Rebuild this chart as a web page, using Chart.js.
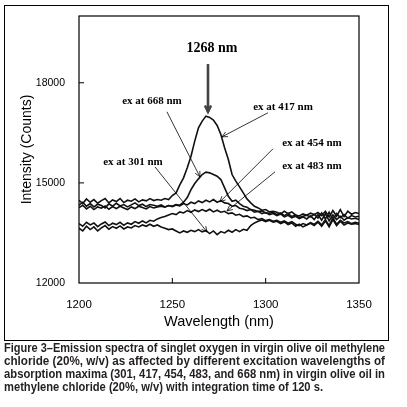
<!DOCTYPE html>
<html>
<head>
<meta charset="utf-8">
<script src="https://cdn.jsdelivr.net/npm/chart.js@4/dist/chart.umd.min.js"></script>
<style>
  html, body { margin: 0; padding: 0; background: #fff; }
  #wrap { position: relative; width: 407px; height: 407px; overflow: hidden; }
  #frame { position: absolute; left: 4px; top: 5px; width: 383px; height: 334px; border: 1px solid #000; pointer-events: none; }
  #caption {
    position: absolute; left: 4px; top: 342px; width: 381px;
    font-family: "Liberation Sans", Arial, sans-serif;
    font-weight: bold; font-size: 12px; line-height: 13px; color: #231f20;
  }
  #caption div { white-space: nowrap; height: 13px; }
  #caption span { display: inline-block; transform-origin: 0 0; }
</style>
</head>
<body>
<div id="wrap">
  <canvas id="spectra-chart" width="407" height="407"></canvas>
  <div id="frame"></div>
  <div id="caption">
    <div><span>Figure 3–Emission spectra of singlet oxygen in virgin olive oil methylene</span></div>
    <div><span>chloride (20%, w/v) as affected by different excitation wavelengths of</span></div>
    <div><span>absorption maxima (301, 417, 454, 483, and 668 nm) in virgin olive oil in</span></div>
    <div class="last"><span>methylene chloride (20%, w/v) with integration time of 120 s.</span></div>
  </div>
</div>
<script>
  const wavelengths = [1200, 1202, 1204, 1206, 1208, 1210, 1212, 1214, 1216, 1218, 1220, 1222, 1224, 1226, 1228, 1230, 1232, 1234, 1236, 1238,
    1240, 1242, 1244, 1246, 1248, 1250, 1252, 1254, 1256, 1258, 1260, 1262, 1264, 1266, 1268, 1270, 1272, 1274, 1276, 1278,
    1280, 1282, 1284, 1286, 1288, 1290, 1292, 1294, 1296, 1298, 1300, 1302, 1304, 1306, 1308, 1310, 1312, 1314, 1316, 1318,
    1320, 1322, 1324, 1326, 1328, 1330, 1332, 1334, 1336, 1338, 1340, 1342, 1344, 1346, 1348, 1350];

  const ex417 = [14480, 14380, 14520, 14420, 14500, 14390, 14470, 14530, 14400, 14490, 14440, 14530, 14410, 14480, 14450, 14520, 14430, 14490, 14460, 14530, 14470, 14500, 14480,
    14530, 14500, 14620, 14700, 14940, 15150, 15450, 15800, 16250, 16650, 16850, 17000, 16960, 16880, 16720, 16450, 16050, 15700, 15250, 15050, 14880, 14700, 14520, 14400, 14300, 14250, 14180, 14200, 14130, 14150,
    14120, 14060, 14150, 14080, 14130, 14040, 14010, 14070, 14030, 14090, 14050, 14110, 14020, 14150, 13980, 14170, 14000, 14200, 13990, 14150, 14060, 14110, 14080];

  const ex668 = [14330, 14420, 14300, 14380, 14280, 14360, 14320, 14250, 14370, 14300, 14390, 14310, 14350, 14280, 14340, 14400, 14320, 14360, 14290, 14350, 14330, 14300, 14340,
    14280, 14320, 14300, 14350, 14330, 14420, 14560, 14800, 14980, 15120, 15250, 15320, 15300, 15250, 15200, 15100, 14850, 14600, 14450, 14480, 14380, 14300, 14270, 14200, 14180, 14140, 14160, 14100, 14090, 14120,
    14050, 14100, 14020, 14080, 13990, 14040, 13960, 14000, 14030, 13980, 14060, 13950, 14100, 13920, 14120, 13900, 14080, 13960, 14050, 13940, 14020, 13980, 14000];

  const ex454 = [14260, 14330, 14220, 14300, 14200, 14280, 14240, 14310, 14210, 14290, 14230, 14300, 14250, 14200, 14280, 14230, 14300, 14260, 14220, 14290, 14250, 14280, 14300,
    14270, 14320, 14290, 14340, 14310, 14380, 14340, 14420, 14380, 14460, 14410, 14480, 14430, 14500, 14420, 14470, 14400, 14380, 14300, 14320, 14240, 14220, 14170, 14200, 14120, 14150, 14080, 14110, 14050, 14080,
    14020, 14070, 13980, 14030, 13950, 14000, 13930, 13980, 13920, 14010, 13900, 14050, 13880, 14080, 13860, 14040, 13900, 14000, 13880, 13960, 13920, 13940, 13900];

  const ex483 = [13780, 13700, 13820, 13740, 13800, 13690, 13770, 13830, 13720, 13790, 13750, 13820, 13730, 13800, 13760, 13840, 13790, 13860, 13800, 13880, 13850, 13920, 13960,
    13990, 14040, 14080, 14050, 14130, 14100, 14170, 14120, 14190, 14140, 14200, 14150, 14210, 14130, 14180, 14120, 14150, 14080, 14100, 14030, 14060, 13990, 14010, 13950, 13970, 13900, 13930, 13870, 13900, 13850,
    13880, 13820, 13860, 13790, 13840, 13760, 13720, 13780, 13740, 13810, 13760, 13850, 13740, 13900, 13720, 13950, 13760, 13880, 13800, 13840, 13780, 13820, 13790];

  const ex301 = [13640, 13560, 13700, 13600, 13680, 13560, 13650, 13720, 13610, 13690, 13640, 13710, 13620, 13680, 13650, 13720, 13680, 13740, 13700, 13760, 13700, 13740, 13680,
    13640, 13600, 13620, 13560, 13500, 13560, 13520, 13580, 13540, 13600, 13530, 13570, 13480, 13560, 13450, 13540, 13500, 13580, 13520, 13600, 13540, 13610, 13580, 13720, 13800, 13850, 13890, 13840, 13880, 13820,
    13850, 13780, 13830, 13750, 13800, 13700, 13760, 13680, 13740, 13790, 13720, 13820, 13700, 13860, 13680, 13900, 13720, 13850, 13740, 13800, 13760, 13780, 13750];

  const xTicks = [1200, 1250, 1300, 1350];
  const yTicks = [12000, 15000, 18000];

  // labels and arrows, in data units (wavelength, counts)
  const notes = [
    { text: 'ex at 668 nm', at: [1239.1, 17460], from: [1247.1, 17130], to: [1264.8, 15180] },
    { text: 'ex at 417 nm', at: [1309.3, 17280], from: [1301.2, 17100], to: [1276.6, 16380] },
    { text: 'ex at 454 nm', at: [1324.8, 16200], from: [1303.9, 16020], to: [1275.5, 14430] },
    { text: 'ex at 483 nm', at: [1324.8, 15510], from: [1305.0, 15330], to: [1279.3, 14160] },
    { text: 'ex at 301 nm', at: [1228.9, 15630], from: [1240.7, 15480], to: [1268.6, 13530] }
  ];
  const peakNote = { text: '1268 nm', at: [1271.2, 19020], from: [1269.1, 18560], to: [1269.1, 17130] };

  function toPoints(values) {
    return wavelengths.map((w, i) => ({ x: w, y: values[i] }));
  }

  function drawArrow(ctx, x1, y1, x2, y2, head) {
    const a = Math.atan2(y2 - y1, x2 - x1);
    ctx.beginPath();
    ctx.moveTo(x1, y1);
    ctx.lineTo(x2, y2);
    ctx.stroke();
    ctx.beginPath();
    ctx.moveTo(x2 - head * Math.cos(a - 0.45), y2 - head * Math.sin(a - 0.45));
    ctx.lineTo(x2, y2);
    ctx.lineTo(x2 - head * Math.cos(a + 0.45), y2 - head * Math.sin(a + 0.45));
    ctx.stroke();
  }

  const framePlugin = {
    id: 'frameAndNotes',
    afterDatasetsDraw(chart) {
      const { ctx, chartArea: ca, scales: { x, y } } = chart;
      ctx.save();
      ctx.strokeStyle = '#000';
      ctx.lineWidth = 1.2;
      ctx.strokeRect(ca.left, ca.top, ca.right - ca.left, ca.bottom - ca.top);
      // inward tick marks
      ctx.lineWidth = 1;
      ctx.beginPath();
      xTicks.slice(1, -1).forEach(t => {
        const px = x.getPixelForValue(t);
        ctx.moveTo(px, ca.bottom);
        ctx.lineTo(px, ca.bottom - 5);
      });
      yTicks.slice(1).forEach(t => {
        const py = y.getPixelForValue(t);
        ctx.moveTo(ca.left, py);
        ctx.lineTo(ca.left + 5, py);
      });
      ctx.stroke();

      ctx.fillStyle = '#000';
      ctx.textAlign = 'center';
      ctx.textBaseline = 'middle';
      ctx.font = 'bold 11px "Liberation Serif", "DejaVu Serif", serif';
      ctx.lineWidth = 0.8;
      notes.forEach(n => {
        ctx.fillText(n.text, x.getPixelForValue(n.at[0]), y.getPixelForValue(n.at[1]));
        drawArrow(ctx, x.getPixelForValue(n.from[0]), y.getPixelForValue(n.from[1]),
          x.getPixelForValue(n.to[0]), y.getPixelForValue(n.to[1]), 6);
      });

      ctx.font = 'bold 14px "Liberation Serif", "DejaVu Serif", serif';
      ctx.fillText(peakNote.text, x.getPixelForValue(peakNote.at[0]), y.getPixelForValue(peakNote.at[1]));
      ctx.strokeStyle = '#444';
      ctx.lineWidth = 2.6;
      drawArrow(ctx, x.getPixelForValue(peakNote.from[0]), y.getPixelForValue(peakNote.from[1]),
        x.getPixelForValue(peakNote.to[0]), y.getPixelForValue(peakNote.to[1]), 7);
      ctx.restore();
    }
  };

  function lineSet(label, values) {
    return {
      label: label,
      data: toPoints(values),
      borderColor: '#111',
      borderWidth: 1.6,
      pointRadius: 0,
      tension: 0,
      fill: false
    };
  }

  // squeeze each caption line to the column width, like the condensed print face
  function fitCaption() {
    const spans = document.querySelectorAll('#caption span');
    const full = 381;
    let factor = 1;
    spans.forEach((s, i) => {
      const w = s.getBoundingClientRect().width;
      if (i < spans.length - 1) {
        factor = full / w;
        s.style.transform = 'scaleX(' + factor + ')';
      } else {
        s.style.transform = 'scaleX(' + Math.min(factor, 319 / w) + ')';
      }
    });
  }

  window.onload = () => {
    fitCaption();
    const ctx = document.getElementById('spectra-chart').getContext('2d');
    const axisFont = '"Liberation Sans", Arial, sans-serif';
    new Chart(ctx, {
      type: 'line',
      data: {
        datasets: [
          lineSet('ex at 417 nm', ex417),
          lineSet('ex at 668 nm', ex668),
          lineSet('ex at 454 nm', ex454),
          lineSet('ex at 483 nm', ex483),
          lineSet('ex at 301 nm', ex301)
        ]
      },
      options: {
        responsive: false,
        animation: false,
        layout: { padding: { left: 0, top: 16, right: 48, bottom: 74 } },
        plugins: { legend: { display: false }, tooltip: { enabled: false } },
        scales: {
          x: {
            type: 'linear',
            min: 1200,
            max: 1350,
            afterBuildTicks: (s) => { s.ticks = xTicks.map(v => ({ value: v })); },
            afterFit: (s) => { s.height = 50; },
            grid: { display: false },
            border: { display: false },
            ticks: { color: '#000', padding: 7, maxRotation: 0, callback: v => String(v), font: { family: axisFont, size: 11.5 } },
            title: {
              display: true,
              text: 'Wavelength (nm)',
              color: '#000',
              padding: { top: 0, bottom: 2 },
              font: { family: axisFont, size: 14.5 }
            }
          },
          y: {
            min: 12000,
            max: 20000,
            afterBuildTicks: (s) => { s.ticks = yTicks.map(v => ({ value: v })); },
            afterFit: (s) => { s.width = 79; },
            grid: { display: false },
            border: { display: false },
            ticks: { color: '#000', padding: 6, callback: v => String(v), font: { family: axisFont, size: 10.5 } },
            title: {
              display: true,
              text: 'Intensity (Counts)',
              color: '#000',
              padding: { top: 19, bottom: 0 },
              font: { family: axisFont, size: 14 }
            }
          }
        }
      },
      plugins: [framePlugin]
    });
  };
</script>
</body>
</html>
